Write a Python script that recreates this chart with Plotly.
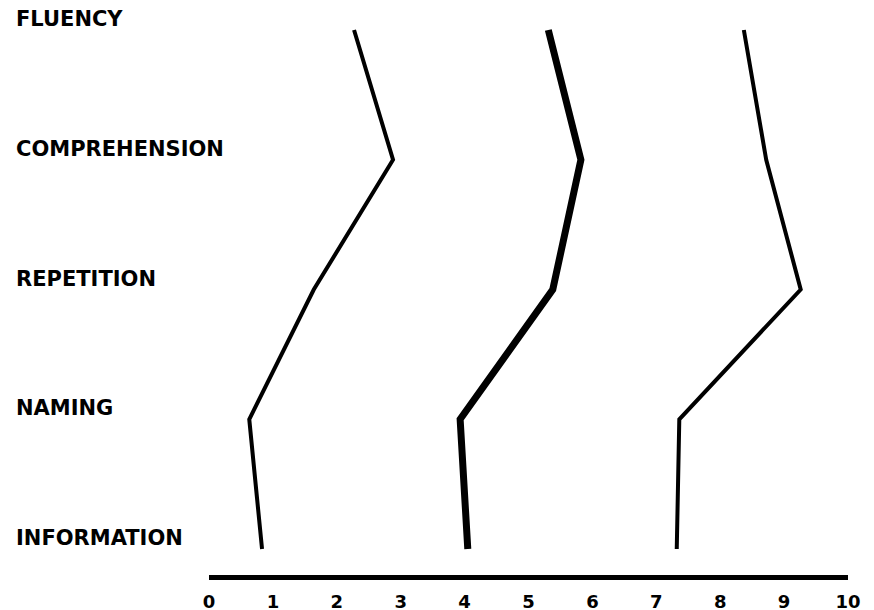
import plotly.graph_objects as go

categories = ["FLUENCY", "COMPREHENSION", "REPETITION", "NAMING", "INFORMATION"]
cat_pos = [4, 3, 2, 1, 0]

series_a = [2.27, 2.88, 1.64, 0.63, 0.83]
series_b = [5.31, 5.82, 5.38, 3.93, 4.05]
series_c = [8.37, 8.72, 9.26, 7.36, 7.32]

tick_vals = [0, 1, 2, 3, 4, 5, 6, 7, 8, 9, 10]
tick_text = ["0", "1", "2", "3", "4", "5", "6", "7", "8", "9", "10"]

fig = go.Figure()
for vals, w in [(series_a, 4), (series_b, 7), (series_c, 4)]:
    fig.add_trace(go.Scatter(x=vals, y=cat_pos, mode="lines",
                             line=dict(color="black", width=w),
                             showlegend=False, hoverinfo="skip"))

for name, p in zip(categories, cat_pos):
    fig.add_annotation(x=-0.305, y=p, xref="paper", yref="y", text=name,
                       showarrow=False, xanchor="left", yanchor="middle",
                       yshift=11,
                       font=dict(family="DejaVu Sans", size=21, color="black", weight="bold"))

fig.update_xaxes(range=[0, 10], tickvals=tick_vals, ticktext=tick_text,
                 showgrid=False, zeroline=False, showline=True, automargin=False,
                 linecolor="black", linewidth=5, ticks="", ticklabelstandoff=6,
                 tickfont=dict(family="DejaVu Sans", size=18, color="black", weight="bold"))
fig.update_yaxes(range=[-0.2, 4.154], showgrid=False, zeroline=False, automargin=False,
                 showticklabels=False, showline=False)

fig.update_layout(width=874, height=610, margin=dict(l=201, r=34, t=2, b=43),
                  plot_bgcolor="white", paper_bgcolor="white")

fig.write_html("out.html")
